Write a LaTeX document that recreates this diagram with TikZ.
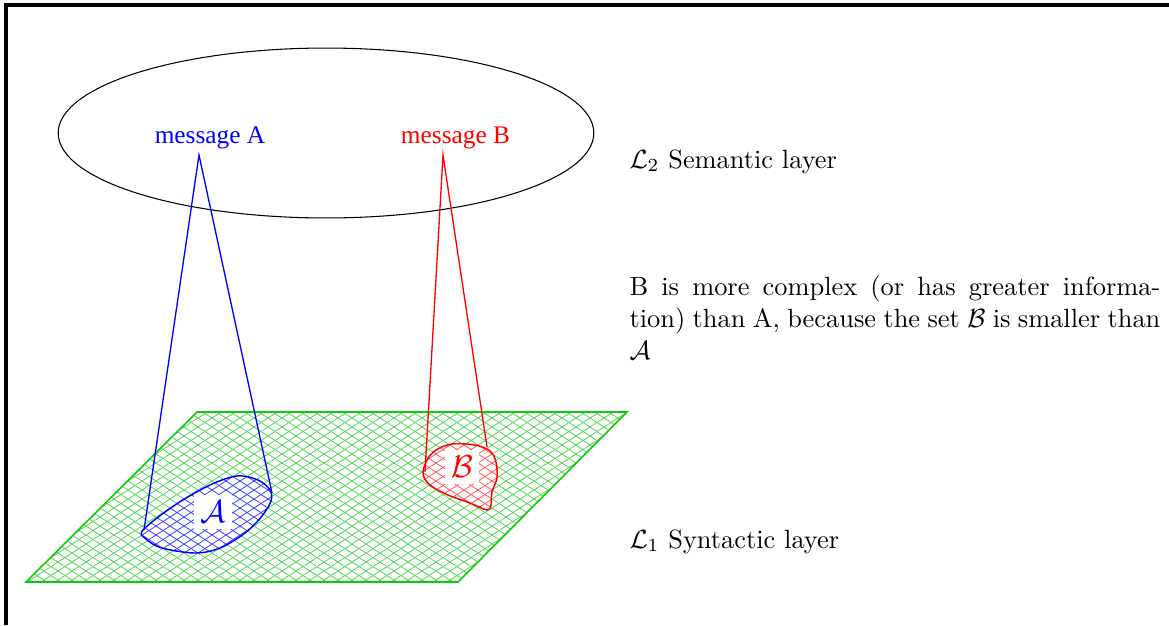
\documentclass[tikz,border=0pt]{standalone}
\usepackage{amsmath,amssymb}
\usepackage{fontspec}
\newfontfamily\msgfont{Liberation Serif}
\usetikzlibrary{shapes.geometric}
\definecolor{planegreen}{HTML}{10C810}
\definecolor{gridgreen}{HTML}{50D850}
\tikzset{
  msg/.style={font=\msgfont\fontsize{9.6}{11}\selectfont,inner sep=0pt,anchor=base},
  layerlabel/.style={anchor=base west,inner sep=0pt},
  setlabel/.style={fill=white,inner sep=2.5pt,font=\large},
  cone/.style={line width=.5pt},
  plane/.style={draw=planegreen,line width=.6pt},
  gridline/.style={line width=.3pt},
  setline/.style={line width=.55pt},
  frameline/.style={line width=1.4pt},
}
\newcommand{\gridlines}[1]{%
  \foreach \k in {-320,-306,...,920}
    {\draw[gridline,#1] (\k,400) -- ++(311,200) (\k,400) -- ++(-311,200);}}
\def\setA{plot[smooth cycle,tension=.55] coordinates {(143,530) (175,505) (210,485) (237,476) (258,480) (270,490) (271,501) (262,516) (245,533) (220,548) (195,553) (162,548) (146,539)}}
\def\setB{plot[smooth cycle,tension=.55] coordinates {(423,474) (427,460) (436,450) (452,444) (475,445) (490,451) (496,462) (497,478) (492,492) (491,505) (487,510) (470,503) (448,495) (430,485)}}

\begin{document}
\begin{tikzpicture}[x=0.379pt,y=-0.379pt]
	\useasboundingbox (0,0) rectangle (1169,625);
	\draw[frameline] (6,625) -- (6,5) -- (1169,5);

	% semantic layer
	\node[draw,ellipse,minimum width=203pt,minimum height=64.4pt,inner sep=0pt] (sem) at (326,133) {};
	\node[msg,text=blue] (msgA) at (210,143) {message A};
	\node[msg,text=red] (msgB) at (455.5,143) {message B};
	\coordinate (tipA) at (199,155);
	\coordinate (tipB) at (443,155);

	% syntactic layer
	\coordinate (p1) at (197,412);
	\coordinate (p2) at (627,412);
	\coordinate (p3) at (458,582);
	\coordinate (p4) at (26,582);
	\begin{scope}
		\clip (p1) -- (p2) -- (p3) -- (p4) -- cycle;
		\gridlines{gridgreen}
	\end{scope}
	\draw[plane] (p1) -- (p2) -- (p3) -- (p4) -- cycle;

	% the two sets
	\fill[white] \setA;
	\begin{scope}
		\clip \setA;
		\gridlines{blue!75}
	\end{scope}
	\draw[setline,blue] \setA;
	\fill[white] \setB;
	\begin{scope}
		\clip \setB;
		\gridlines{red!65}
	\end{scope}
	\draw[setline,red] \setB;
	\node[setlabel,text=blue] (labA) at (213,512) {$\mathcal{A}$};
	\node[setlabel,text=red] (labB) at (462,467) {$\mathcal{B}$};

	% cones
	\coordinate (a1) at (144,530);
	\coordinate (a2) at (272,493);
	\coordinate (b1) at (425,472);
	\coordinate (b2) at (487,447);
	\draw[cone,blue] (a1) -- (tipA) -- (a2);
	\draw[cone,red] (b1) -- (tipB) -- (b2);

	% texts
	\node[layerlabel] (L2) at (629,168) {$\mathcal{L}_2$ Semantic layer};
	\node[layerlabel] (L1) at (629,548) {$\mathcal{L}_1$ Syntactic layer};
	\node[anchor=north west,inner sep=0pt,text width=201.2pt,align=justify] (note) at (629,275.5)
		{B is more complex (or has greater informa-\linebreak tion) than A, because the set $\mathcal{B}$ is smaller than $\mathcal{A}$};
\end{tikzpicture}
\end{document}
